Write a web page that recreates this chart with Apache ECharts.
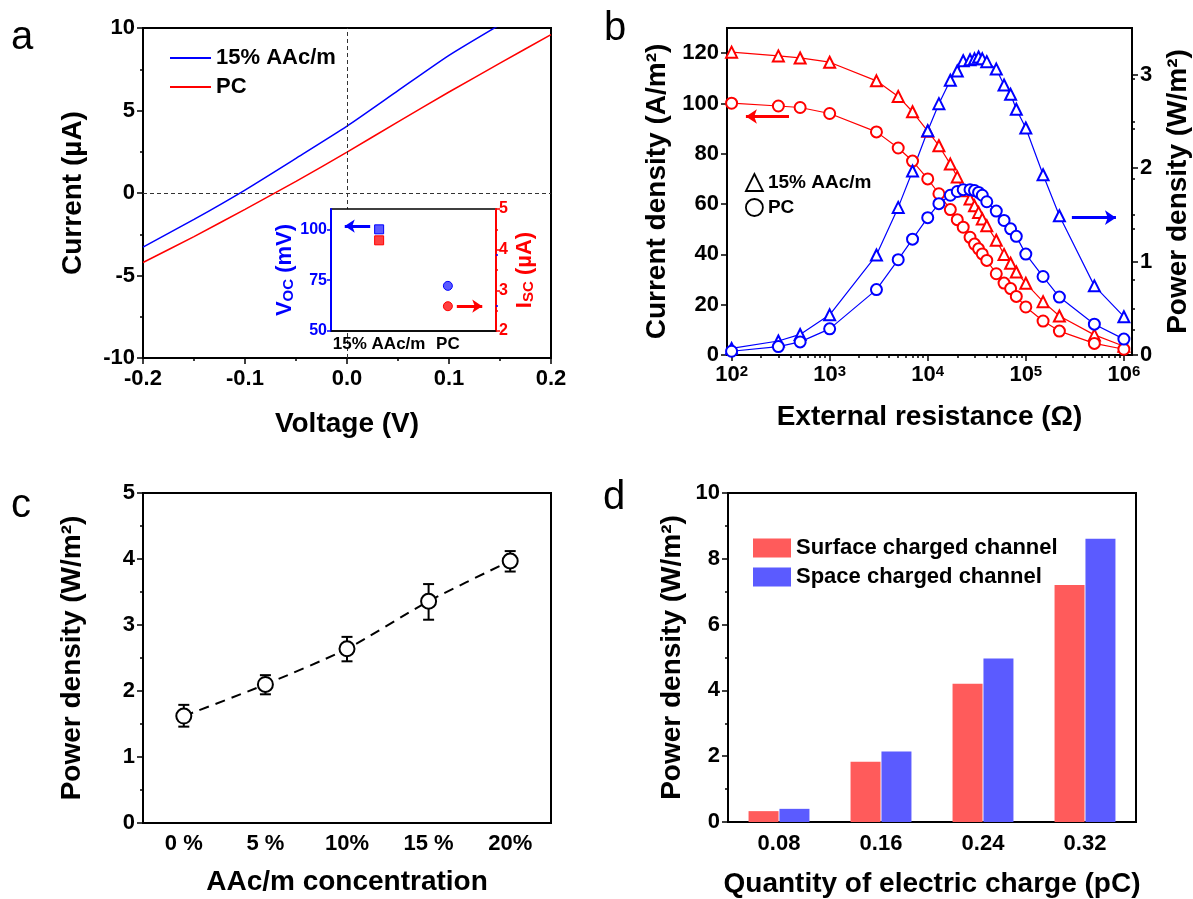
<!DOCTYPE html>
<html>
<head>
<meta charset="utf-8">
<title>Figure</title>
<script src="https://cdn.jsdelivr.net/npm/echarts@6/dist/echarts.min.js"></script>
<style>
  html, body { margin: 0; padding: 0; background: #fff; }
  #main { width: 1193px; height: 899px; }
</style>
</head>
<body>
<div id="main"></div>
<script>
// ---- panel a : I-V curves ----
const voltA = [-0.2, -0.15, -0.1, -0.05, 0, 0.05, 0.1, 0.15, 0.2];
const currentAAc = [-3.28, -1.6, 0.18, 2.1, 4.05, 6.2, 8.34, 10.2, null];
const currentPC = [-4.21, -2.64, -0.99, 0.7, 2.48, 4.31, 6.12, 7.87, 9.6];

// inset of panel a
const insetCats = ['15% AAc/m', 'PC'];
const vocValues = [100, 72.2];   // mV
const iscValues = [4.23, 2.61];  // uA

// ---- panel b : load test ----
const resistance = [100, 300, 500, 1000, 3000, 5000, 7000, 10000, 13000, 17000, 20000, 23000, 27000,
  30000, 33000, 36000, 40000, 50000, 60000, 70000, 80000, 100000, 150000, 220000, 500000, 1000000];
const jAAc = [120.4, 118.9, 118.1, 116.4, 109.0, 102.8, 96.7, 89.0, 83.2, 75.9, 70.8, 65.3, 62.0,
  59.3, 56.7, 54.1, 51.4, 45.6, 40.0, 36.5, 33.0, 28.5, 21.2, 15.5, 8.0, 3.5];
const jPC = [100.1, 99.0, 98.4, 96.0, 88.7, 82.3, 77.1, 70.0, 64.1, 57.8, 53.8, 50.8, 46.8,
  44.1, 42.2, 40.2, 37.6, 32.3, 28.6, 26.4, 23.3, 19.1, 13.5, 9.5, 4.6, 2.3];
const pAAc = [0.07, 0.15, 0.22, 0.43, 1.07, 1.58, 1.97, 2.40, 2.69, 2.94, 3.04, 3.15, 3.16,
  3.17, 3.19, 3.17, 3.14, 3.06, 2.89, 2.79, 2.63, 2.43, 1.93, 1.49, 0.74, 0.41];
const pPC = [0.04, 0.09, 0.14, 0.28, 0.70, 1.02, 1.24, 1.47, 1.62, 1.71, 1.75, 1.77, 1.77,
  1.76, 1.74, 1.71, 1.64, 1.54, 1.44, 1.35, 1.27, 1.08, 0.84, 0.62, 0.33, 0.17];

// ---- panel c : power vs concentration ----
const concCats = ['0 %', '5 %', '10%', '15 %', '20%'];
const powerMean = [1.62, 2.10, 2.64, 3.36, 3.97];
const powerLow = [1.46, 1.95, 2.45, 3.08, 3.81];
const powerHigh = [1.79, 2.24, 2.82, 3.62, 4.12];

// ---- panel d : power vs charge ----
const chargeCats = ['0.08', '0.16', '0.24', '0.32'];
const surfacePower = [0.33, 1.83, 4.2, 7.2];
const spacePower = [0.40, 2.14, 4.97, 8.61];

const FF = '"Liberation Sans", Arial, Helvetica, sans-serif';
const BLUE = '#0000FF';
const RED = '#FF0000';

const tickLbl = { color: '#000', fontSize: 22, fontWeight: 'bold', fontFamily: FF };
const nameStyle = { color: '#000', fontSize: 28, fontWeight: 'bold', fontFamily: FF };

function valAxis(o) {
  return Object.assign({
    type: 'value',
    axisLine: { show: true, onZero: false, lineStyle: { color: '#000', width: 2 } },
    axisTick: { show: true, length: 6, lineStyle: { color: '#000', width: 1.5 } },
    minorTick: { show: false },
    splitLine: { show: false },
    axisLabel: Object.assign({ margin: 8 }, tickLbl),
    nameLocation: 'middle',
    nameTextStyle: nameStyle
  }, o);
}
// extra axis that only draws short minor ticks
function minorAxis(o, values, color, len) {
  return Object.assign({
    type: 'value',
    axisLine: { show: false, onZero: false },
    axisLabel: { show: false },
    splitLine: { show: false },
    axisTick: { show: true, customValues: values, length: len || 3, lineStyle: { color: color || '#000', width: 1.5 } }
  }, o);
}
function frame(l, t, w, h, extra) {
  return Object.assign({ left: l, top: t, width: w, height: h, show: true, borderColor: '#000', borderWidth: 2, backgroundColor: 'transparent' }, extra || {});
}

const log = Math.log10;
const bxMin = log(89.8), bxMax = log(1.21e6);
const bMinorX = [];
for (let n = 2; n <= 5; n++) for (let k = 2; k <= 9; k++) bMinorX.push(log(k * Math.pow(10, n)));

const chart = echarts.init(document.getElementById('main'));

const option = {
  animation: false,
  textStyle: { fontFamily: FF },
  grid: [
    frame(143, 28, 408, 330),
    frame(331, 209, 165, 122, { backgroundColor: '#fff', borderWidth: 1.5, z: 10 }),
    frame(727, 28, 407, 327),
    frame(143, 493, 408, 330),
    frame(728, 493, 408, 331)
  ],
  xAxis: [
    valAxis({ gridIndex: 0, min: -0.2, max: 0.2, interval: 0.1,
      minorTick: { show: true, splitNumber: 2, length: 3, lineStyle: { color: '#000', width: 1.5 } },
      axisLabel: Object.assign({ margin: 10, formatter: v => v.toFixed(1) }, tickLbl),
      name: 'Voltage (V)', nameGap: 52 }),
    valAxis({ gridIndex: 1, min: -0.7, max: 1.7, z: 11,
      axisLine: { show: true, onZero: false, lineStyle: { color: '#000', width: 1.5 } },
      axisTick: { show: false },
      axisLabel: { customValues: [0, 1], formatter: v => insetCats[Math.round(v)], margin: 5,
        color: '#000', fontSize: 17, fontWeight: 'bold', fontFamily: FF } }),
    valAxis({ gridIndex: 2, min: bxMin, max: bxMax,
      axisTick: { show: true, customValues: [2, 3, 4, 5, 6], length: 6, lineStyle: { color: '#000', width: 1.5 } },
      axisLabel: { customValues: [2, 3, 4, 5, 6], margin: 9,
        formatter: v => '{b|10}{s|' + Math.round(v) + '}',
        rich: { b: Object.assign({}, tickLbl), s: { fontSize: 15, fontWeight: 'bold', color: '#000', fontFamily: FF, verticalAlign: 'top' } } },
      name: 'External resistance (Ω)', nameGap: 48 }),
    minorAxis({ gridIndex: 2, min: bxMin, max: bxMax, position: 'bottom' }, bMinorX),
    { gridIndex: 3, type: 'category', data: concCats,
      axisLine: { lineStyle: { color: '#000', width: 2 } },
      axisTick: { alignWithLabel: true, length: 6, lineStyle: { color: '#000', width: 1.5 } },
      axisLabel: Object.assign({ margin: 10 }, tickLbl),
      name: 'AAc/m concentration', nameLocation: 'middle', nameGap: 45, nameTextStyle: nameStyle },
    { gridIndex: 4, type: 'category', data: chargeCats,
      axisLine: { lineStyle: { color: '#000', width: 2 } },
      axisTick: { alignWithLabel: true, length: 6, lineStyle: { color: '#000', width: 1.5 } },
      axisLabel: Object.assign({ margin: 11 }, tickLbl),
      name: 'Quantity of electric charge (pC)', nameLocation: 'middle', nameGap: 48, nameTextStyle: nameStyle }
  ],
  yAxis: [
    valAxis({ gridIndex: 0, min: -10, max: 10, interval: 5,
      minorTick: { show: true, splitNumber: 2, length: 3, lineStyle: { color: '#000', width: 1.5 } },
      name: 'Current (µA)', nameGap: 56, nameRotate: 90 }),
    // inset Voc (left, blue)
    valAxis({ gridIndex: 1, min: 50, max: 110, z: 11,
      axisLine: { show: true, onZero: false, lineStyle: { color: BLUE, width: 2 } },
      axisTick: { customValues: [50, 75, 100], length: 4, lineStyle: { color: BLUE, width: 1.5 } },
      axisLabel: { customValues: [50, 75, 100], margin: 4, color: BLUE, fontSize: 16, fontWeight: 'bold', fontFamily: FF },
      name: '{m|V}{s|OC}{m| (mV)}', nameGap: 34, nameRotate: 90,
      nameTextStyle: { rich: {
        m: { fontSize: 22, fontWeight: 'bold', color: BLUE, fontFamily: FF },
        s: { fontSize: 15, fontWeight: 'bold', color: BLUE, fontFamily: FF, verticalAlign: 'bottom' } } } }),
    minorAxis({ gridIndex: 1, min: 50, max: 110, z: 11 }, [62.5, 87.5], BLUE, 2),
    // inset Isc (right, red)
    valAxis({ gridIndex: 1, position: 'right', min: 2, max: 5, interval: 1, z: 11,
      axisLine: { show: true, onZero: false, lineStyle: { color: RED, width: 2 } },
      axisTick: { length: 4, lineStyle: { color: RED, width: 1.5 } },
      minorTick: { show: true, splitNumber: 2, length: 2, lineStyle: { color: RED, width: 1.5 } },
      axisLabel: { margin: 3, color: RED, fontSize: 16, fontWeight: 'bold', fontFamily: FF },
      name: '{m|I}{s|SC}{m| (µA)}', nameGap: 18, nameRotate: 90,
      nameTextStyle: { rich: {
        m: { fontSize: 22, fontWeight: 'bold', color: RED, fontFamily: FF },
        s: { fontSize: 15, fontWeight: 'bold', color: RED, fontFamily: FF, verticalAlign: 'bottom' } } } }),
    // panel b left (current density)
    valAxis({ gridIndex: 2, min: 0, max: 130,
      axisTick: { customValues: [0, 20, 40, 60, 80, 100, 120], length: 6, lineStyle: { color: '#000', width: 1.5 } },
      axisLabel: Object.assign({ customValues: [0, 20, 40, 60, 80, 100, 120], margin: 8 }, tickLbl),
      name: 'Current density (A/m²)', nameGap: 56, nameRotate: 90 }),
    minorAxis({ gridIndex: 2, min: 0, max: 130 }, [10, 30, 50, 70, 90, 110]),
    // panel b right (power density)
    valAxis({ gridIndex: 2, position: 'right', min: 0, max: 3.5,
      axisTick: { customValues: [0, 1, 2, 3], length: 6, lineStyle: { color: '#000', width: 1.5 } },
      axisLabel: Object.assign({ customValues: [0, 1, 2, 3], margin: 8 }, tickLbl),
      name: 'Power density (W/m²)', nameGap: 32, nameRotate: 90 }),
    minorAxis({ gridIndex: 2, min: 0, max: 3.5, position: 'right' }, [0.5, 1.5, 2.5]),
    valAxis({ gridIndex: 3, min: 0, max: 5, interval: 1,
      minorTick: { show: true, splitNumber: 2, length: 3, lineStyle: { color: '#000', width: 1.5 } },
      name: 'Power density (W/m²)', nameGap: 57, nameRotate: 90 }),
    valAxis({ gridIndex: 4, min: 0, max: 10, interval: 2,
      minorTick: { show: true, splitNumber: 2, length: 3, lineStyle: { color: '#000', width: 1.5 } },
      name: 'Power density (W/m²)', nameGap: 42, nameRotate: 90 })
  ],
  legend: [
    { data: ['a:15% AAc/m', 'a:PC'], formatter: n => n.slice(2), selectedMode: false,
      orient: 'vertical', left: 164, top: 42, itemWidth: 41, itemHeight: 14, itemGap: 7,
      itemStyle: { opacity: 0 },
      textStyle: { fontSize: 22, fontWeight: 'bold', color: '#000', fontFamily: FF } },
    { data: [{ name: 'b:15% AAc/m', icon: 'triangle' }, { name: 'b:PC', icon: 'circle' }],
      formatter: n => n.slice(2), selectedMode: false,
      orient: 'vertical', left: 740, top: 168, itemWidth: 17, itemHeight: 17, itemGap: 6,
      itemStyle: { color: '#fff', borderColor: '#000', borderWidth: 1.8 },
      textStyle: { fontSize: 19, fontWeight: 'bold', color: '#000', fontFamily: FF } },
    { data: ['Surface charged channel', 'Space charged channel'], selectedMode: false,
      orient: 'vertical', left: 748, top: 532, icon: 'rect', itemWidth: 38, itemHeight: 19, itemGap: 7,
      textStyle: { fontSize: 22, fontWeight: 'bold', color: '#000', fontFamily: FF } }
  ],
  graphic: [
    { type: 'text', left: 11, top: 18, style: { text: 'a', font: '40px ' + FF, fill: '#000' } },
    { type: 'text', left: 604, top: 9, style: { text: 'b', font: '40px ' + FF, fill: '#000' } },
    { type: 'text', left: 11, top: 486, style: { text: 'c', font: '40px ' + FF, fill: '#000' } },
    { type: 'text', left: 603, top: 478, style: { text: 'd', font: '40px ' + FF, fill: '#000' } }
  ],
  series: [
    // panel a
    { name: 'a:15% AAc/m', type: 'line', xAxisIndex: 0, yAxisIndex: 0, symbol: 'none', smooth: 0.2,
      data: voltA.map((v, i) => [v, currentAAc[i]]).filter(p => p[1] !== null),
      lineStyle: { color: BLUE, width: 1.5 }, itemStyle: { color: BLUE },
      markLine: { silent: true, symbol: 'none', label: { show: false },
        lineStyle: { color: '#333', type: [4, 3], width: 1 },
        data: [{ xAxis: 0 }, { yAxis: 0 }] } },
    { name: 'a:PC', type: 'line', xAxisIndex: 0, yAxisIndex: 0, symbol: 'none', smooth: 0.2,
      data: voltA.map((v, i) => [v, currentPC[i]]),
      lineStyle: { color: RED, width: 1.5 }, itemStyle: { color: RED } },
    // inset
    { name: 'Voc', type: 'scatter', xAxisIndex: 1, yAxisIndex: 1, z: 12, symbolSize: 9,
      data: vocValues.map((v, i) => ({ value: [i, v], symbol: i === 0 ? 'rect' : 'circle' })),
      itemStyle: { color: '#5a5aff', borderColor: BLUE, borderWidth: 1, opacity: 1 },
      markLine: { silent: true, z: 13, symbol: ['none', 'arrow'], symbolSize: 10, label: { show: false },
        lineStyle: { color: BLUE, width: 3, type: 'solid' },
        data: [[{ coord: [-0.13, 101.6] }, { coord: [-0.5, 101.6] }]] } },
    { name: 'Isc', type: 'scatter', xAxisIndex: 1, yAxisIndex: 3, z: 12, symbolSize: 9,
      data: iscValues.map((v, i) => ({ value: [i, v], symbol: i === 0 ? 'rect' : 'circle' })),
      itemStyle: { color: '#ff4040', borderColor: RED, borderWidth: 1, opacity: 1 },
      markLine: { silent: true, z: 13, symbol: ['none', 'arrow'], symbolSize: 10, label: { show: false },
        lineStyle: { color: RED, width: 3, type: 'solid' },
        data: [[{ coord: [1.13, 2.61] }, { coord: [1.5, 2.61] }]] } },
    // panel b
    { name: 'b:15% AAc/m', type: 'line', xAxisIndex: 2, yAxisIndex: 4,
      data: resistance.map((r, i) => [log(r), jAAc[i]]),
      symbol: 'emptyTriangle', symbolSize: 11, lineStyle: { color: RED, width: 1.2 },
      itemStyle: { color: RED, borderWidth: 1.5 },
      markLine: { silent: true, symbol: ['none', 'arrow'], symbolSize: 11, label: { show: false },
        lineStyle: { color: RED, width: 3, type: 'solid' },
        data: [[{ coord: [log(385), 94.8] }, { coord: [log(140), 94.8] }]] } },
    { name: 'b:PC', type: 'line', xAxisIndex: 2, yAxisIndex: 4,
      data: resistance.map((r, i) => [log(r), jPC[i]]),
      symbol: 'emptyCircle', symbolSize: 11, lineStyle: { color: RED, width: 1.2 },
      itemStyle: { color: RED, borderWidth: 1.5 } },
    { name: 'b:15% AAc/m', type: 'line', xAxisIndex: 2, yAxisIndex: 6,
      data: resistance.map((r, i) => [log(r), pAAc[i]]),
      symbol: 'emptyTriangle', symbolSize: 11, lineStyle: { color: BLUE, width: 1.2 },
      itemStyle: { color: BLUE, borderWidth: 1.5 },
      markLine: { silent: true, symbol: ['none', 'arrow'], symbolSize: 11, label: { show: false },
        lineStyle: { color: BLUE, width: 3, type: 'solid' },
        data: [[{ coord: [log(2.95e5), 1.47] }, { coord: [log(8.3e5), 1.47] }]] } },
    { name: 'b:PC', type: 'line', xAxisIndex: 2, yAxisIndex: 6,
      data: resistance.map((r, i) => [log(r), pPC[i]]),
      symbol: 'emptyCircle', symbolSize: 11, lineStyle: { color: BLUE, width: 1.2 },
      itemStyle: { color: BLUE, borderWidth: 1.5 } },
    // panel c
    { name: 'err', type: 'custom', xAxisIndex: 4, yAxisIndex: 8, z: 2,
      data: concCats.map((c, i) => [i, powerLow[i], powerHigh[i]]),
      renderItem: function (params, api) {
        const lo = api.coord([api.value(0), api.value(1)]);
        const hi = api.coord([api.value(0), api.value(2)]);
        const w = 5.5;
        const st = { stroke: '#000', lineWidth: 2 };
        return { type: 'group', children: [
          { type: 'line', shape: { x1: lo[0], y1: lo[1], x2: hi[0], y2: hi[1] }, style: st },
          { type: 'line', shape: { x1: lo[0] - w, y1: lo[1], x2: lo[0] + w, y2: lo[1] }, style: st },
          { type: 'line', shape: { x1: hi[0] - w, y1: hi[1], x2: hi[0] + w, y2: hi[1] }, style: st }
        ] };
      } },
    { name: 'mean', type: 'line', xAxisIndex: 4, yAxisIndex: 8, z: 3, data: powerMean, smooth: 0.25,
      symbol: 'emptyCircle', symbolSize: 15,
      lineStyle: { color: '#000', width: 2, type: [10, 7] },
      itemStyle: { color: '#000', borderWidth: 2.5 } },
    // panel d
    { name: 'Surface charged channel', type: 'bar', xAxisIndex: 5, yAxisIndex: 9, data: surfacePower,
      barWidth: 30, barGap: '3%', itemStyle: { color: '#FF5B5B' } },
    { name: 'Space charged channel', type: 'bar', xAxisIndex: 5, yAxisIndex: 9, data: spacePower,
      barWidth: 30, barGap: '3%', itemStyle: { color: '#5B5BFF' } }
  ]
};

chart.setOption(option);
</script>
</body>
</html>
